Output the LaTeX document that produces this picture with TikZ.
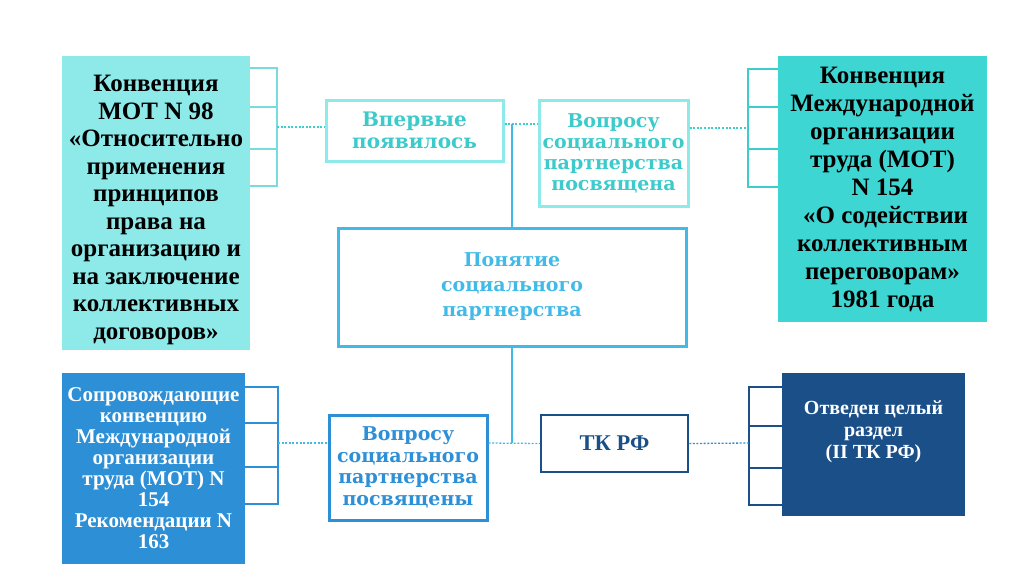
\documentclass[tikz,border=0pt]{standalone}
\usepackage{fontspec}
\setmainfont{Liberation Serif}
\newfontfamily\capfont{DejaVu Serif}[BoldFont={DejaVu Serif Bold}]
\usepackage{xcolor}

\definecolor{paleaqua}{HTML}{8EE9E9}
\definecolor{aquatxt}{HTML}{3CCACA}
\definecolor{aqua}{HTML}{3ED6D2}
\definecolor{aquaedge}{HTML}{3CCDCD}
\definecolor{skyline}{HTML}{42BAE8}
\definecolor{midblue}{HTML}{2D8FD6}
\definecolor{navy}{HTML}{1B4F88}

\tikzset{
  box/.style={inner sep=0pt, align=center},
  dots/.style={line width=1.3pt, dash pattern=on 2pt off 1.6pt},
  comb/.style={line width=1.6pt},
}

\begin{document}
\begin{tikzpicture}[x=1pt,y=-1pt]
      \useasboundingbox (0,0) rectangle (1024,574);

      % filled boxes at the sides
      \node[box, fill=paleaqua, minimum width=188, minimum height=294] (conv98) at (156,203) {};
      \node[box, font=\bfseries\fontsize{25}{27.5}\selectfont] (conv98txt)
        at ([yshift=-7pt]conv98.center)
        {Конвенция\\МОТ N 98\\«Относительно\\применения\\принципов\\права на\\организацию и\\на заключение\\коллективных\\договоров»};
      \node[box, fill=aqua, minimum width=209, minimum height=266,
            font=\bfseries\fontsize{25}{28}\selectfont] (conv154) at (882.5,189)
        {Конвенция\\Международной\\организации\\труда (МОТ)\\N 154\\\ «О содействии\\коллективным\\переговорам»\\1981 года};
      \node[box, fill=midblue, text=white, minimum width=183, minimum height=191,
            font=\bfseries\fontsize{21}{21}\selectfont] (rec163) at (153.5,468.5)
        {Сопровождающие\\конвенцию\\Международной\\организации\\труда (МОТ) N\\154\\Рекомендации N\\163};
      \node[box, fill=navy, minimum width=183, minimum height=143] (razdel) at (873.5,444.5) {};
      \node[box, text=white, font=\bfseries\fontsize{20}{22}\selectfont] (razdeltxt)
        at ([yshift=13pt]razdel.center) {Отведен целый\\раздел\\(II ТК РФ)};

      % framed boxes in the middle
      \node[box, draw=paleaqua, line width=3pt, text=aquatxt, minimum width=177, minimum height=61,
            font=\capfont\bfseries\fontsize{20}{22}\selectfont] (vpervye) at (414.5,130.5)
        {Впервые\\появилось};
      \node[box, draw=paleaqua, line width=3pt, text=aquatxt, minimum width=149, minimum height=106,
            font=\capfont\bfseries\fontsize{19}{21}\selectfont] (vopros1) at (613.5,153)
        {Вопросу\\социального\\партнерства\\посвящена};
      \node[box, draw=skyline, line width=3pt, text=skyline, minimum width=348, minimum height=118,
            font=\capfont\bfseries\fontsize{19}{25}\selectfont] (ponyatie) at (512,287)
        {Понятие\\социального\\партнерства};
      \node[box, draw=midblue, line width=3pt, text=midblue, minimum width=158, minimum height=105,
            font=\capfont\bfseries\fontsize{19}{21.5}\selectfont] (vopros2) at (408,467.5)
        {Вопросу\\социального\\партнерства\\посвящены};
      \node[box, draw=navy, line width=2.5pt, text=navy, minimum width=147, minimum height=57,
            font=\bfseries\fontsize{22.5}{22}\selectfont] (tkrf) at (614.5,443.5)
        {ТК РФ};

      % combs beside the side boxes
      \draw[comb, aquaedge!70] (conv98.east |- 0,68) -| (277,186) -- (conv98.east |- 0,186);
      \foreach \y in {107,149} \draw[comb, aquaedge!70] (conv98.east |- 0,\y) -- (277,\y);
      \draw[comb, aquaedge] (conv154.west |- 0,69) -| (748,187) -- (conv154.west |- 0,187);
      \foreach \y in {107,149} \draw[comb, aquaedge] (conv154.west |- 0,\y) -- (748,\y);
      \draw[comb, midblue] (rec163.east |- 0,387) -| (278,504) -- (rec163.east |- 0,504);
      \foreach \y in {423,467} \draw[comb, midblue] (rec163.east |- 0,\y) -- (278,\y);
      \draw[comb, navy] (razdel.west |- 0,387) -| (749,505) -- (razdel.west |- 0,505);
      \foreach \y in {426,468} \draw[comb, navy] (razdel.west |- 0,\y) -- (749,\y);

      \coordinate (combA) at (277,127);
      \coordinate (combB) at (748,128);
      \coordinate (combC) at (278,443);
      \coordinate (combD) at (749,443);
      \coordinate (topjoin) at (ponyatie.north |- 0,124);
      \coordinate (lowjoin) at (ponyatie.south |- 0,443);

      % dotted links
      \draw[dots, aquaedge] (combA) -- (vpervye.west |- combA);
      \draw[dots, aquaedge] (vpervye.east |- topjoin) -- (vopros1.west |- topjoin);
      \draw[dots, aquaedge] (vopros1.east |- combB) -- (combB);
      \draw[dots, skyline] (combC) -- (vopros2.west |- combC);
      \draw[dots, skyline] (vopros2.east |- lowjoin) -- (tkrf.west);
      \draw[dots, midblue] (tkrf.east) -- (combD);

      % trunk through the centre
      \draw[line width=1.5pt, skyline] (topjoin) -- (ponyatie.north);
      \draw[line width=1.5pt, skyline] (ponyatie.south) -- (lowjoin);
    \end{tikzpicture}
\end{document}
